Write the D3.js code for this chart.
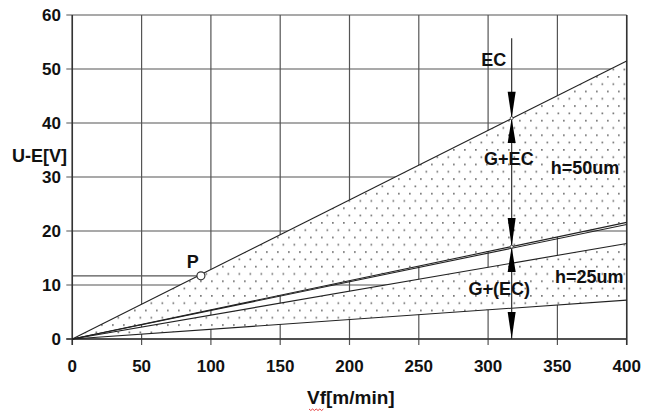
<!DOCTYPE html>
<html><head><meta charset="utf-8">
<script src="https://cdn.jsdelivr.net/npm/d3@7"></script>
<style>body{margin:0;background:#fff}svg{display:block}</style>
</head><body>
<script>
// ---- data ----
const xTicks = [0, 50, 100, 150, 200, 250, 300, 350, 400];
const yTicks = [0, 10, 20, 30, 40, 50, 60];
const vfEnds = [0, 400];
const upperU = [0, 51.5];     // h=50um, EC limit
const middleU1 = [0, 21.6];   // G+EC limit (upper of pair)
const middleU2 = [0, 21.2];   // G+EC limit (lower of pair)
const lowerU = [0, 17.7];     // h=25um upper
const bottomU = [0, 7.2];     // h=25um lower
const pointP = [92.8, 11.7];
const arrowVf = 317;
const arrowTopU = 55.7;
const arrowHeads = [[45.8, 40.9], [36.3, 40.9], [22.4, 17.1], [12.4, 17.1], [5.0, 0]];
const labels = [
  {text: "EC", vf: 304, u: 50.6},
  {text: "G+EC", vf: 315, u: 32.2},
  {text: "h=50um", vf: 370, u: 30.6},
  {text: "G+(EC)", vf: 308, u: 8.2},
  {text: "h=25um", vf: 373, u: 10.4},
  {text: "P", vf: 87, u: 13.1}
];

const W = 657, H = 412;
const svg = d3.select("body").append("svg").attr("width", W).attr("height", H);
const x = d3.scaleLinear().domain([0, 400]).range([72.3, 626.7]);
const y = d3.scaleLinear().domain([0, 60]).range([339, 15]);
const font = "Liberation Sans, Arial, sans-serif";

// dot pattern
const defs = svg.append("defs");
const pat = defs.append("pattern").attr("id", "dots").attr("patternUnits", "userSpaceOnUse")
  .attr("width", 11).attr("height", 14.6).attr("x", 1).attr("y", 2);
pat.append("rect").attr("width", 11).attr("height", 14.6).attr("fill", "#fff");
pat.append("rect").attr("x", 1).attr("y", 1).attr("width", 1.7).attr("height", 1.7).attr("fill", "#777");
pat.append("rect").attr("x", 6.5).attr("y", 8.3).attr("width", 1.7).attr("height", 1.7).attr("fill", "#777");

// grid
const gridColor = "#555";
svg.append("g").selectAll("line").data(yTicks).join("line")
  .attr("x1", x(0) - 6).attr("x2", x(400)).attr("y1", d => y(d)).attr("y2", d => y(d))
  .attr("stroke", gridColor).attr("stroke-width", 1.2);
svg.append("g").selectAll("line").data(xTicks).join("line")
  .attr("x1", d => x(d)).attr("x2", d => x(d)).attr("y1", y(60)).attr("y2", y(0) + 6)
  .attr("stroke", gridColor).attr("stroke-width", 1.2);

// P reference line
svg.append("line").attr("x1", x(0)).attr("x2", x(pointP[0])).attr("y1", y(pointP[1])).attr("y2", y(pointP[1]))
  .attr("stroke", gridColor).attr("stroke-width", 1.2);

// dotted areas
const poly = (a, b) => [[x(vfEnds[0]), y(a[0])], [x(vfEnds[1]), y(a[1])], [x(vfEnds[1]), y(b[1])], [x(vfEnds[0]), y(b[0])]];
const areaGen = d3.line();
svg.append("path").attr("d", areaGen(poly(upperU, middleU1)) + "Z").attr("fill", "url(#dots)");
svg.append("path").attr("d", areaGen(poly(lowerU, bottomU)) + "Z").attr("fill", "url(#dots)");

// re-draw frame edges
svg.append("line").attr("x1", x(400)).attr("x2", x(400)).attr("y1", y(60)).attr("y2", y(0) + 6)
  .attr("stroke", "#333").attr("stroke-width", 1.5);
svg.append("line").attr("x1", x(0)).attr("x2", x(0)).attr("y1", y(60)).attr("y2", y(0) + 6)
  .attr("stroke", "#333").attr("stroke-width", 1.5);
svg.append("line").attr("x1", x(0) - 6).attr("x2", x(400)).attr("y1", y(0)).attr("y2", y(0))
  .attr("stroke", "#333").attr("stroke-width", 1.5);

// data lines
const lineGen = d3.line().x(d => x(d[0])).y(d => y(d[1]));
[upperU, middleU1, middleU2, lowerU, bottomU].forEach(s => {
  svg.append("path").attr("d", lineGen(vfEnds.map((v, i) => [v, s[i]])))
    .attr("fill", "none").attr("stroke", "#222").attr("stroke-width", 1.1);
});

// arrow
svg.append("line").attr("x1", x(arrowVf)).attr("x2", x(arrowVf)).attr("y1", y(arrowTopU)).attr("y2", y(0))
  .attr("stroke", "#333").attr("stroke-width", 1.2);
svg.append("g").selectAll("path").data(arrowHeads).join("path")
  .attr("d", d => {
    const cx = x(arrowVf), yb = y(d[0]), ya = y(d[1]);
    return `M${cx - 4},${yb}L${cx + 4},${yb}L${cx},${ya}Z`;
  }).attr("fill", "#000");
[40.9, 17.1].forEach(u => svg.append("circle").attr("cx", x(arrowVf)).attr("cy", y(u)).attr("r", 1.5)
  .attr("fill", "#fff").attr("stroke", "#333").attr("stroke-width", 0.8));

// point P
svg.append("circle").attr("cx", x(pointP[0])).attr("cy", y(pointP[1])).attr("r", 4)
  .attr("fill", "#fff").attr("stroke", "#333").attr("stroke-width", 1.2);

// tick labels
svg.append("g").selectAll("text").data(yTicks).join("text")
  .attr("x", 61).attr("y", d => y(d) + 6).attr("text-anchor", "end")
  .attr("font-family", font).attr("font-weight", "bold").attr("font-size", 17).attr("fill", "#111")
  .text(d => d);
svg.append("g").selectAll("text").data(xTicks).join("text")
  .attr("x", d => x(d)).attr("y", 372).attr("text-anchor", "middle")
  .attr("font-family", font).attr("font-weight", "bold").attr("font-size", 17).attr("fill", "#111")
  .text(d => d);

// axis titles
svg.append("text").attr("x", 12).attr("y", 162).attr("font-family", font).attr("font-weight", "bold")
  .attr("font-size", 18).attr("fill", "#111").text("U-E[V]");
svg.append("text").attr("x", 307).attr("y", 404).attr("font-family", font).attr("font-weight", "bold")
  .attr("font-size", 19).attr("fill", "#111").text("Vf[m/min]");
const sq = [];
for (let i = 0; i <= 8; i++) sq.push([309 + i * 1.8, 409 + (i % 2 ? 1.5 : 0)]);
svg.append("path").attr("d", d3.line()(sq)).attr("fill", "none").attr("stroke", "#e03030").attr("stroke-width", 0.9);

// annotations
svg.append("g").selectAll("text").data(labels).join("text")
  .attr("x", d => x(d.vf)).attr("y", d => y(d.u)).attr("text-anchor", "middle")
  .attr("font-family", font).attr("font-weight", "bold").attr("font-size", 18).attr("fill", "#111")
  .text(d => d.text);
</script>
</body></html>
